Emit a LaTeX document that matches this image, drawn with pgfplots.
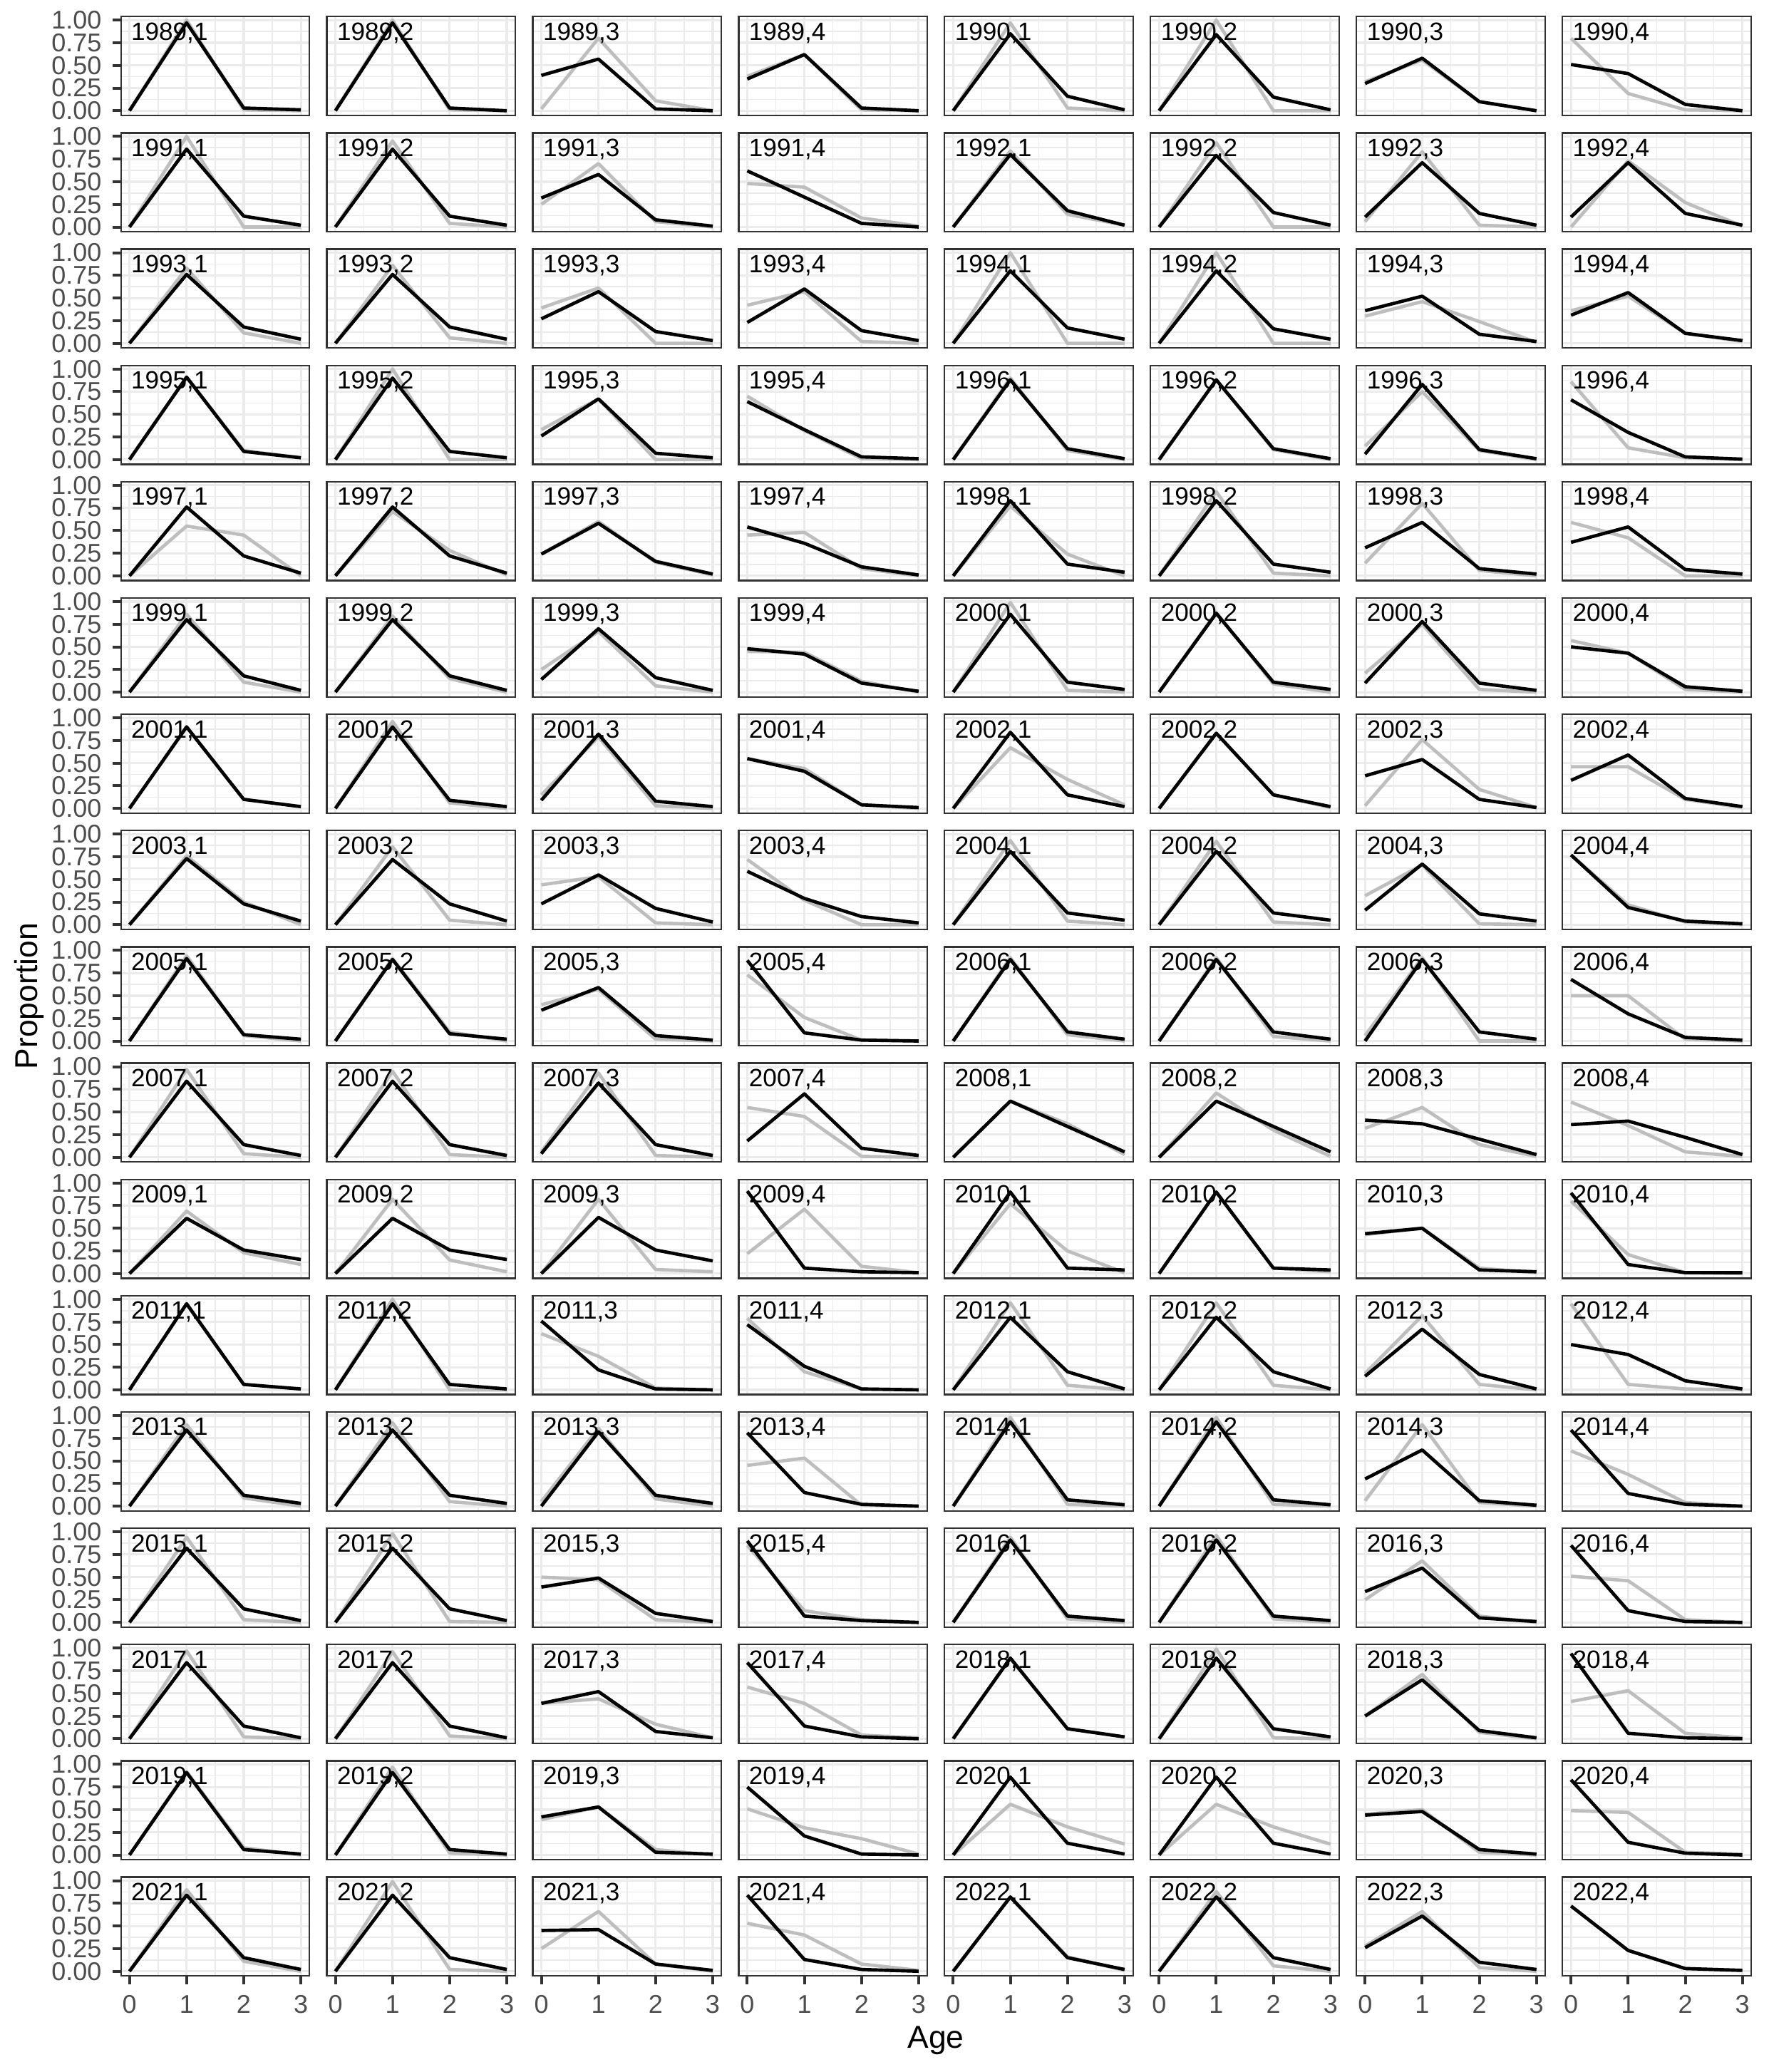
\documentclass[border=0pt]{standalone}
\usepackage{pgfplots}
\pgfplotsset{compat=1.18}
\usepgfplotslibrary{groupplots}
\usetikzlibrary{calc}
\usepackage{fontspec}
\setmainfont{Liberation Sans}
\definecolor{g20}{HTML}{333333}
\definecolor{g30}{HTML}{4D4D4D}
\definecolor{g92}{HTML}{EBEBEB}
\definecolor{lgrey}{HTML}{BEBEBE}
\pgfplotsset{
  ic/.style={},
  lc/.style={ytick style={draw=g20, line width=0.9pt}},
  bc/.style={xtick style={draw=g20, line width=0.9pt}},
}
\newcommand{\pan}[4]{%
  \nextgroupplot[#1]
  \addplot[lgrey, line width=1.05pt, line join=round] coordinates {#4};
  \addplot[black, line width=1.05pt, line join=round] coordinates {#3};
  \node[anchor=base west, inner sep=0pt, font=\fontsize{7.9}{9}\selectfont, text=black] at (axis cs:0.02,0.78) {#2};
}
\begin{document}
\begin{tikzpicture}
\begin{groupplot}[
  group style={group size=8 by 17, horizontal sep=5.5pt, vertical sep=5.5pt,
    xticklabels at=edge bottom, yticklabels at=edge left},
  scale only axis, width=59.5pt, height=31.2pt,
  xmin=-0.15, xmax=3.15, ymin=-0.052, ymax=1.039,
  xtick={0,1,2,3}, ytick={0,0.25,0.5,0.75,1},
  minor xtick={0.5,1.5,2.5}, minor ytick={0.125,0.375,0.625,0.875},
  grid=both,
  major grid style={g92, line width=0.7pt},
  minor grid style={g92, line width=0.35pt},
  tick pos=left, tick align=outside,
  major tick length=2.6pt, minor tick length=0pt,
  xtick style={draw=none}, ytick style={draw=none},
  axis line style={draw=g20, line width=0.5pt},
  /pgf/number format/assume math mode=true,
  tick label style={font=\fontsize{8.1}{9}\selectfont, text=g30},
  yticklabel style={/pgf/number format/.cd, fixed, fixed zerofill, precision=2},
]
% row 1
\pan{lc}{1989,1}{(0,0)(1,0.97)(2,0.03)(3,0.01)}{(0,0)(1,1.0)(2,0.01)(3,0)}
\pan{ic}{1989,2}{(0,0)(1,0.97)(2,0.03)(3,0.0)}{(0,0)(1,1.0)(2,0.01)(3,0)}
\pan{ic}{1989,3}{(0,0.39)(1,0.57)(2,0.02)(3,0)}{(0,0.02)(1,0.80)(2,0.11)(3,0)}
\pan{ic}{1989,4}{(0,0.35)(1,0.62)(2,0.03)(3,0)}{(0,0.38)(1,0.62)(2,0.01)(3,0)}
\pan{ic}{1990,1}{(0,0)(1,0.85)(2,0.16)(3,0.01)}{(0,0)(1,0.97)(2,0.03)(3,0)}
\pan{ic}{1990,2}{(0,0)(1,0.84)(2,0.15)(3,0.01)}{(0,0)(1,1.0)(2,0.0)(3,0)}
\pan{ic}{1990,3}{(0,0.30)(1,0.58)(2,0.10)(3,0.0)}{(0,0.32)(1,0.56)(2,0.10)(3,0)}
\pan{ic}{1990,4}{(0,0.51)(1,0.41)(2,0.07)(3,0.0)}{(0,0.80)(1,0.19)(2,0.01)(3,0)}
% row 2
\pan{lc}{1991,1}{(0,0)(1,0.86)(2,0.12)(3,0.02)}{(0,0)(1,1.0)(2,0)(3,0)}
\pan{ic}{1991,2}{(0,0)(1,0.86)(2,0.12)(3,0.02)}{(0,0)(1,0.95)(2,0.04)(3,0)}
\pan{ic}{1991,3}{(0,0.32)(1,0.58)(2,0.08)(3,0.01)}{(0,0.25)(1,0.70)(2,0.06)(3,0)}
\pan{ic}{1991,4}{(0,0.62)(1,0.33)(2,0.04)(3,0)}{(0,0.48)(1,0.44)(2,0.10)(3,0.01)}
\pan{ic}{1992,1}{(0,0)(1,0.80)(2,0.18)(3,0.02)}{(0,0)(1,0.84)(2,0.14)(3,0.02)}
\pan{ic}{1992,2}{(0,0)(1,0.79)(2,0.16)(3,0.02)}{(0,0)(1,0.93)(2,0)(3,0)}
\pan{ic}{1992,3}{(0,0.11)(1,0.71)(2,0.15)(3,0.02)}{(0,0.06)(1,0.83)(2,0.02)(3,0)}
\pan{ic}{1992,4}{(0,0.11)(1,0.71)(2,0.15)(3,0.02)}{(0,0)(1,0.73)(2,0.27)(3,0.01)}
% row 3
\pan{lc}{1993,1}{(0,0)(1,0.76)(2,0.18)(3,0.045)}{(0,0)(1,0.83)(2,0.115)(3,0)}
\pan{ic}{1993,2}{(0,0)(1,0.76)(2,0.18)(3,0.045)}{(0,0)(1,0.86)(2,0.06)(3,0)}
\pan{ic}{1993,3}{(0,0.27)(1,0.57)(2,0.13)(3,0.03)}{(0,0.39)(1,0.61)(2,0)(3,0)}
\pan{ic}{1993,4}{(0,0.23)(1,0.60)(2,0.14)(3,0.03)}{(0,0.42)(1,0.57)(2,0.02)(3,0)}
\pan{ic}{1994,1}{(0,0)(1,0.80)(2,0.17)(3,0.045)}{(0,0)(1,1.0)(2,0)(3,0)}
\pan{ic}{1994,2}{(0,0)(1,0.80)(2,0.16)(3,0.045)}{(0,0)(1,1.0)(2,0)(3,0)}
\pan{ic}{1994,3}{(0,0.36)(1,0.52)(2,0.10)(3,0.02)}{(0,0.30)(1,0.46)(2,0.24)(3,0.01)}
\pan{ic}{1994,4}{(0,0.31)(1,0.56)(2,0.11)(3,0.03)}{(0,0.36)(1,0.52)(2,0.11)(3,0.02)}
% row 4
\pan{lc}{1995,1}{(0,0)(1,0.91)(2,0.09)(3,0.02)}{(0,0)(1,0.91)(2,0.10)(3,0.02)}
\pan{ic}{1995,2}{(0,0)(1,0.90)(2,0.09)(3,0.02)}{(0,0)(1,1.0)(2,0)(3,0)}
\pan{ic}{1995,3}{(0,0.26)(1,0.67)(2,0.07)(3,0.02)}{(0,0.33)(1,0.67)(2,0)(3,0)}
\pan{ic}{1995,4}{(0,0.64)(1,0.33)(2,0.03)(3,0.01)}{(0,0.70)(1,0.32)(2,0.01)(3,0)}
\pan{ic}{1996,1}{(0,0)(1,0.88)(2,0.12)(3,0.01)}{(0,0)(1,0.90)(2,0.10)(3,0)}
\pan{ic}{1996,2}{(0,0)(1,0.88)(2,0.12)(3,0.01)}{(0,0)(1,0.88)(2,0.11)(3,0)}
\pan{ic}{1996,3}{(0,0.06)(1,0.83)(2,0.11)(3,0.01)}{(0,0.15)(1,0.75)(2,0.10)(3,0)}
\pan{ic}{1996,4}{(0,0.66)(1,0.30)(2,0.03)(3,0.005)}{(0,0.86)(1,0.13)(2,0.02)(3,0)}
% row 5
\pan{lc}{1997,1}{(0,0)(1,0.76)(2,0.22)(3,0.03)}{(0,0)(1,0.55)(2,0.45)(3,0)}
\pan{ic}{1997,2}{(0,0)(1,0.76)(2,0.22)(3,0.03)}{(0,0)(1,0.71)(2,0.28)(3,0.01)}
\pan{ic}{1997,3}{(0,0.24)(1,0.58)(2,0.16)(3,0.02)}{(0,0.24)(1,0.60)(2,0.15)(3,0.01)}
\pan{ic}{1997,4}{(0,0.54)(1,0.36)(2,0.10)(3,0.01)}{(0,0.45)(1,0.48)(2,0.08)(3,0)}
\pan{ic}{1998,1}{(0,0)(1,0.83)(2,0.13)(3,0.04)}{(0,0)(1,0.77)(2,0.24)(3,0)}
\pan{ic}{1998,2}{(0,0)(1,0.83)(2,0.13)(3,0.04)}{(0,0)(1,0.93)(2,0.03)(3,0)}
\pan{ic}{1998,3}{(0,0.31)(1,0.59)(2,0.08)(3,0.02)}{(0,0.14)(1,0.80)(2,0.06)(3,0)}
\pan{ic}{1998,4}{(0,0.37)(1,0.54)(2,0.07)(3,0.02)}{(0,0.59)(1,0.42)(2,0)(3,0)}
% row 6
\pan{lc}{1999,1}{(0,0)(1,0.80)(2,0.18)(3,0.02)}{(0,0)(1,0.86)(2,0.11)(3,0)}
\pan{ic}{1999,2}{(0,0)(1,0.80)(2,0.18)(3,0.02)}{(0,0)(1,0.84)(2,0.15)(3,0)}
\pan{ic}{1999,3}{(0,0.14)(1,0.70)(2,0.16)(3,0.02)}{(0,0.25)(1,0.67)(2,0.07)(3,0)}
\pan{ic}{1999,4}{(0,0.48)(1,0.42)(2,0.10)(3,0.01)}{(0,0.45)(1,0.44)(2,0.12)(3,0)}
\pan{ic}{2000,1}{(0,0)(1,0.86)(2,0.11)(3,0.03)}{(0,0)(1,0.99)(2,0.02)(3,0)}
\pan{ic}{2000,2}{(0,0)(1,0.87)(2,0.11)(3,0.03)}{(0,0)(1,0.88)(2,0.09)(3,0)}
\pan{ic}{2000,3}{(0,0.10)(1,0.78)(2,0.10)(3,0.02)}{(0,0.21)(1,0.75)(2,0.03)(3,0)}
\pan{ic}{2000,4}{(0,0.50)(1,0.43)(2,0.06)(3,0.01)}{(0,0.57)(1,0.43)(2,0.03)(3,0)}
% row 7
\pan{lc}{2001,1}{(0,0)(1,0.90)(2,0.10)(3,0.02)}{(0,0)(1,0.90)(2,0.10)(3,0.02)}
\pan{ic}{2001,2}{(0,0)(1,0.90)(2,0.09)(3,0.02)}{(0,0)(1,0.96)(2,0.06)(3,0)}
\pan{ic}{2001,3}{(0,0.09)(1,0.82)(2,0.08)(3,0.02)}{(0,0.15)(1,0.79)(2,0.03)(3,0)}
\pan{ic}{2001,4}{(0,0.55)(1,0.41)(2,0.04)(3,0.01)}{(0,0.55)(1,0.44)(2,0.04)(3,0)}
\pan{ic}{2002,1}{(0,0)(1,0.84)(2,0.15)(3,0.02)}{(0,0)(1,0.67)(2,0.32)(3,0.04)}
\pan{ic}{2002,2}{(0,0)(1,0.83)(2,0.15)(3,0.02)}{(0,0)(1,0.83)(2,0.15)(3,0.01)}
\pan{ic}{2002,3}{(0,0.36)(1,0.54)(2,0.10)(3,0.01)}{(0,0.03)(1,0.76)(2,0.21)(3,0.01)}
\pan{ic}{2002,4}{(0,0.31)(1,0.59)(2,0.11)(3,0.02)}{(0,0.46)(1,0.46)(2,0.10)(3,0.01)}
% row 8
\pan{lc}{2003,1}{(0,0)(1,0.73)(2,0.23)(3,0.04)}{(0,0)(1,0.76)(2,0.25)(3,0)}
\pan{ic}{2003,2}{(0,0)(1,0.72)(2,0.23)(3,0.04)}{(0,0)(1,0.86)(2,0.05)(3,0)}
\pan{ic}{2003,3}{(0,0.23)(1,0.55)(2,0.18)(3,0.03)}{(0,0.44)(1,0.53)(2,0.02)(3,0)}
\pan{ic}{2003,4}{(0,0.59)(1,0.29)(2,0.09)(3,0.02)}{(0,0.72)(1,0.27)(2,0)(3,0)}
\pan{ic}{2004,1}{(0,0)(1,0.81)(2,0.13)(3,0.05)}{(0,0)(1,0.93)(2,0.04)(3,0)}
\pan{ic}{2004,2}{(0,0)(1,0.81)(2,0.13)(3,0.05)}{(0,0)(1,0.92)(2,0.03)(3,0)}
\pan{ic}{2004,3}{(0,0.16)(1,0.67)(2,0.12)(3,0.04)}{(0,0.32)(1,0.66)(2,0.01)(3,0)}
\pan{ic}{2004,4}{(0,0.77)(1,0.19)(2,0.04)(3,0.01)}{(0,0.77)(1,0.22)(2,0.03)(3,0)}
% row 9
\pan{lc}{2005,1}{(0,0)(1,0.91)(2,0.07)(3,0.02)}{(0,0)(1,0.94)(2,0.06)(3,0)}
\pan{ic}{2005,2}{(0,0)(1,0.90)(2,0.08)(3,0.02)}{(0,0)(1,0.91)(2,0.10)(3,0)}
\pan{ic}{2005,3}{(0,0.34)(1,0.59)(2,0.06)(3,0.01)}{(0,0.40)(1,0.57)(2,0.02)(3,0)}
\pan{ic}{2005,4}{(0,0.89)(1,0.09)(2,0.01)(3,0)}{(0,0.73)(1,0.26)(2,0.01)(3,0)}
\pan{ic}{2006,1}{(0,0)(1,0.90)(2,0.10)(3,0.02)}{(0,0)(1,0.92)(2,0.07)(3,0)}
\pan{ic}{2006,2}{(0,0)(1,0.90)(2,0.10)(3,0.02)}{(0,0)(1,0.92)(2,0.05)(3,0)}
\pan{ic}{2006,3}{(0,0)(1,0.90)(2,0.10)(3,0.02)}{(0,0.06)(1,0.92)(2,0)(3,0)}
\pan{ic}{2006,4}{(0,0.68)(1,0.30)(2,0.04)(3,0.01)}{(0,0.50)(1,0.50)(2,0.02)(3,0)}
% row 10
\pan{lc}{2007,1}{(0,0)(1,0.84)(2,0.14)(3,0.02)}{(0,0)(1,0.97)(2,0.04)(3,0)}
\pan{ic}{2007,2}{(0,0)(1,0.84)(2,0.14)(3,0.02)}{(0,0)(1,0.95)(2,0.03)(3,0)}
\pan{ic}{2007,3}{(0,0.04)(1,0.82)(2,0.14)(3,0.02)}{(0,0.06)(1,0.93)(2,0.02)(3,0)}
\pan{ic}{2007,4}{(0,0.18)(1,0.70)(2,0.10)(3,0.02)}{(0,0.55)(1,0.45)(2,0.01)(3,0)}
\pan{ic}{2008,1}{(0,0)(1,0.62)(2,0.34)(3,0.06)}{(0,0)(1,0.62)(2,0.37)(3,0.03)}
\pan{ic}{2008,2}{(0,0)(1,0.62)(2,0.34)(3,0.06)}{(0,0)(1,0.71)(2,0.30)(3,0.01)}
\pan{ic}{2008,3}{(0,0.41)(1,0.37)(2,0.20)(3,0.03)}{(0,0.32)(1,0.55)(2,0.14)(3,0.01)}
\pan{ic}{2008,4}{(0,0.36)(1,0.40)(2,0.22)(3,0.03)}{(0,0.61)(1,0.35)(2,0.06)(3,0.01)}
% row 11
\pan{lc}{2009,1}{(0,0)(1,0.61)(2,0.26)(3,0.155)}{(0,0)(1,0.69)(2,0.23)(3,0.10)}
\pan{ic}{2009,2}{(0,0)(1,0.61)(2,0.26)(3,0.155)}{(0,0)(1,0.82)(2,0.15)(3,0.02)}
\pan{ic}{2009,3}{(0,0)(1,0.62)(2,0.26)(3,0.14)}{(0,0)(1,0.82)(2,0.045)(3,0.02)}
\pan{ic}{2009,4}{(0,0.91)(1,0.06)(2,0.02)(3,0.01)}{(0,0.22)(1,0.71)(2,0.08)(3,0.01)}
\pan{ic}{2010,1}{(0,0)(1,0.90)(2,0.06)(3,0.04)}{(0,0)(1,0.77)(2,0.25)(3,0.01)}
\pan{ic}{2010,2}{(0,0)(1,0.90)(2,0.06)(3,0.04)}{(0,0)(1,0.90)(2,0.06)(3,0.02)}
\pan{ic}{2010,3}{(0,0.44)(1,0.50)(2,0.04)(3,0.02)}{(0,0.43)(1,0.50)(2,0.06)(3,0.01)}
\pan{ic}{2010,4}{(0,0.89)(1,0.10)(2,0.01)(3,0.01)}{(0,0.80)(1,0.21)(2,0.01)(3,0)}
% row 12
\pan{lc}{2011,1}{(0,0)(1,0.95)(2,0.06)(3,0.01)}{(0,0)(1,0.95)(2,0.06)(3,0.01)}
\pan{ic}{2011,2}{(0,0)(1,0.95)(2,0.06)(3,0.01)}{(0,0)(1,1.0)(2,0)(3,0)}
\pan{ic}{2011,3}{(0,0.76)(1,0.22)(2,0.01)(3,0)}{(0,0.62)(1,0.37)(2,0.02)(3,0)}
\pan{ic}{2011,4}{(0,0.72)(1,0.26)(2,0.01)(3,0)}{(0,0.79)(1,0.20)(2,0.01)(3,0)}
\pan{ic}{2012,1}{(0,0)(1,0.80)(2,0.20)(3,0.01)}{(0,0)(1,0.96)(2,0.05)(3,0)}
\pan{ic}{2012,2}{(0,0)(1,0.80)(2,0.20)(3,0.01)}{(0,0)(1,0.96)(2,0.05)(3,0)}
\pan{ic}{2012,3}{(0,0.15)(1,0.67)(2,0.17)(3,0.01)}{(0,0.18)(1,0.82)(2,0.06)(3,0)}
\pan{ic}{2012,4}{(0,0.50)(1,0.39)(2,0.10)(3,0.01)}{(0,0.95)(1,0.06)(2,0.01)(3,0)}
% row 13
\pan{lc}{2013,1}{(0,0)(1,0.84)(2,0.12)(3,0.03)}{(0,0)(1,0.90)(2,0.09)(3,0)}
\pan{ic}{2013,2}{(0,0)(1,0.84)(2,0.12)(3,0.03)}{(0,0)(1,0.92)(2,0.05)(3,0)}
\pan{ic}{2013,3}{(0,0)(1,0.82)(2,0.12)(3,0.03)}{(0,0.05)(1,0.86)(2,0.08)(3,0)}
\pan{ic}{2013,4}{(0,0.81)(1,0.15)(2,0.02)(3,0)}{(0,0.45)(1,0.53)(2,0.01)(3,0)}
\pan{ic}{2014,1}{(0,0)(1,0.93)(2,0.07)(3,0.015)}{(0,0)(1,0.98)(2,0.02)(3,0)}
\pan{ic}{2014,2}{(0,0)(1,0.93)(2,0.07)(3,0.015)}{(0,0)(1,0.98)(2,0.02)(3,0)}
\pan{ic}{2014,3}{(0,0.30)(1,0.62)(2,0.06)(3,0.01)}{(0,0.06)(1,0.90)(2,0.04)(3,0)}
\pan{ic}{2014,4}{(0,0.84)(1,0.14)(2,0.02)(3,0)}{(0,0.61)(1,0.35)(2,0.04)(3,0)}
% row 14
\pan{lc}{2015,1}{(0,0)(1,0.82)(2,0.15)(3,0.02)}{(0,0)(1,0.94)(2,0.03)(3,0)}
\pan{ic}{2015,2}{(0,0)(1,0.82)(2,0.15)(3,0.02)}{(0,0)(1,0.98)(2,0.01)(3,0)}
\pan{ic}{2015,3}{(0,0.39)(1,0.49)(2,0.10)(3,0.01)}{(0,0.50)(1,0.47)(2,0.03)(3,0)}
\pan{ic}{2015,4}{(0,0.90)(1,0.07)(2,0.02)(3,0)}{(0,0.85)(1,0.13)(2,0.03)(3,0)}
\pan{ic}{2016,1}{(0,0)(1,0.91)(2,0.07)(3,0.02)}{(0,0)(1,0.94)(2,0.04)(3,0)}
\pan{ic}{2016,2}{(0,0)(1,0.91)(2,0.07)(3,0.02)}{(0,0)(1,0.96)(2,0.04)(3,0)}
\pan{ic}{2016,3}{(0,0.34)(1,0.60)(2,0.05)(3,0.01)}{(0,0.25)(1,0.68)(2,0.07)(3,0)}
\pan{ic}{2016,4}{(0,0.85)(1,0.13)(2,0.01)(3,0)}{(0,0.51)(1,0.46)(2,0.03)(3,0)}
% row 15
\pan{lc}{2017,1}{(0,0)(1,0.84)(2,0.14)(3,0.01)}{(0,0)(1,0.97)(2,0.02)(3,0)}
\pan{ic}{2017,2}{(0,0)(1,0.84)(2,0.14)(3,0.01)}{(0,0)(1,0.96)(2,0.03)(3,0)}
\pan{ic}{2017,3}{(0,0.39)(1,0.52)(2,0.08)(3,0.01)}{(0,0.39)(1,0.44)(2,0.16)(3,0.01)}
\pan{ic}{2017,4}{(0,0.84)(1,0.14)(2,0.02)(3,0)}{(0,0.57)(1,0.39)(2,0.04)(3,0.01)}
\pan{ic}{2018,1}{(0,0)(1,0.89)(2,0.11)(3,0.02)}{(0,0)(1,0.89)(2,0.11)(3,0.02)}
\pan{ic}{2018,2}{(0,0)(1,0.89)(2,0.11)(3,0.02)}{(0,0)(1,0.99)(2,0.01)(3,0)}
\pan{ic}{2018,3}{(0,0.25)(1,0.65)(2,0.09)(3,0.01)}{(0,0.25)(1,0.71)(2,0.07)(3,0)}
\pan{ic}{2018,4}{(0,0.94)(1,0.06)(2,0.01)(3,0)}{(0,0.41)(1,0.53)(2,0.06)(3,0.01)}
% row 16
\pan{lc}{2019,1}{(0,0)(1,0.91)(2,0.06)(3,0.01)}{(0,0)(1,0.92)(2,0.08)(3,0)}
\pan{ic}{2019,2}{(0,0)(1,0.91)(2,0.06)(3,0.01)}{(0,0)(1,0.97)(2,0.02)(3,0)}
\pan{ic}{2019,3}{(0,0.42)(1,0.53)(2,0.03)(3,0.01)}{(0,0.39)(1,0.53)(2,0.06)(3,0)}
\pan{ic}{2019,4}{(0,0.75)(1,0.21)(2,0.01)(3,0)}{(0,0.51)(1,0.30)(2,0.18)(3,0.01)}
\pan{ic}{2020,1}{(0,0)(1,0.86)(2,0.13)(3,0.01)}{(0,0)(1,0.56)(2,0.31)(3,0.12)}
\pan{ic}{2020,2}{(0,0)(1,0.86)(2,0.13)(3,0.01)}{(0,0)(1,0.56)(2,0.31)(3,0.12)}
\pan{ic}{2020,3}{(0,0.44)(1,0.48)(2,0.06)(3,0.01)}{(0,0.45)(1,0.50)(2,0.03)(3,0)}
\pan{ic}{2020,4}{(0,0.83)(1,0.14)(2,0.02)(3,0)}{(0,0.49)(1,0.47)(2,0.03)(3,0.01)}
% row 17
\pan{lc,bc}{2021,1}{(0,0)(1,0.84)(2,0.15)(3,0.02)}{(0,0)(1,0.90)(2,0.11)(3,0)}
\pan{bc}{2021,2}{(0,0)(1,0.84)(2,0.15)(3,0.02)}{(0,0)(1,0.99)(2,0.02)(3,0)}
\pan{bc}{2021,3}{(0,0.45)(1,0.46)(2,0.08)(3,0.01)}{(0,0.25)(1,0.66)(2,0.08)(3,0)}
\pan{bc}{2021,4}{(0,0.84)(1,0.13)(2,0.02)(3,0)}{(0,0.53)(1,0.40)(2,0.08)(3,0.01)}
\pan{bc}{2022,1}{(0,0)(1,0.82)(2,0.15)(3,0.02)}{(0,0)(1,0.82)(2,0.16)(3,0.01)}
\pan{bc}{2022,2}{(0,0)(1,0.82)(2,0.15)(3,0.02)}{(0,0)(1,0.88)(2,0.06)(3,0)}
\pan{bc}{2022,3}{(0,0.26)(1,0.61)(2,0.10)(3,0.02)}{(0,0.28)(1,0.66)(2,0.04)(3,0)}
\pan{bc}{2022,4}{(0,0.72)(1,0.23)(2,0.03)(3,0.01)}{(0,0.72)(1,0.23)(2,0.03)(3,0.01)}
\end{groupplot}
\node[rotate=90, font=\fontsize{10}{12}\selectfont] at ($(group c1r1.north west)!0.5!(group c1r17.south west)+(-28.9pt,0pt)$) {Proportion};
\node[anchor=base, font=\fontsize{10}{12}\selectfont] at ($(group c1r17.south west)!0.5!(group c8r17.south east)+(0pt,-22.7pt)$) {Age};
\pgfresetboundingbox
\path[use as bounding box] ($(group c1r1.north west)+(-38.16pt,5.24pt)$) rectangle ($(group c8r17.south east)+(5.63pt,-30.31pt)$);
\end{tikzpicture}
\end{document}
